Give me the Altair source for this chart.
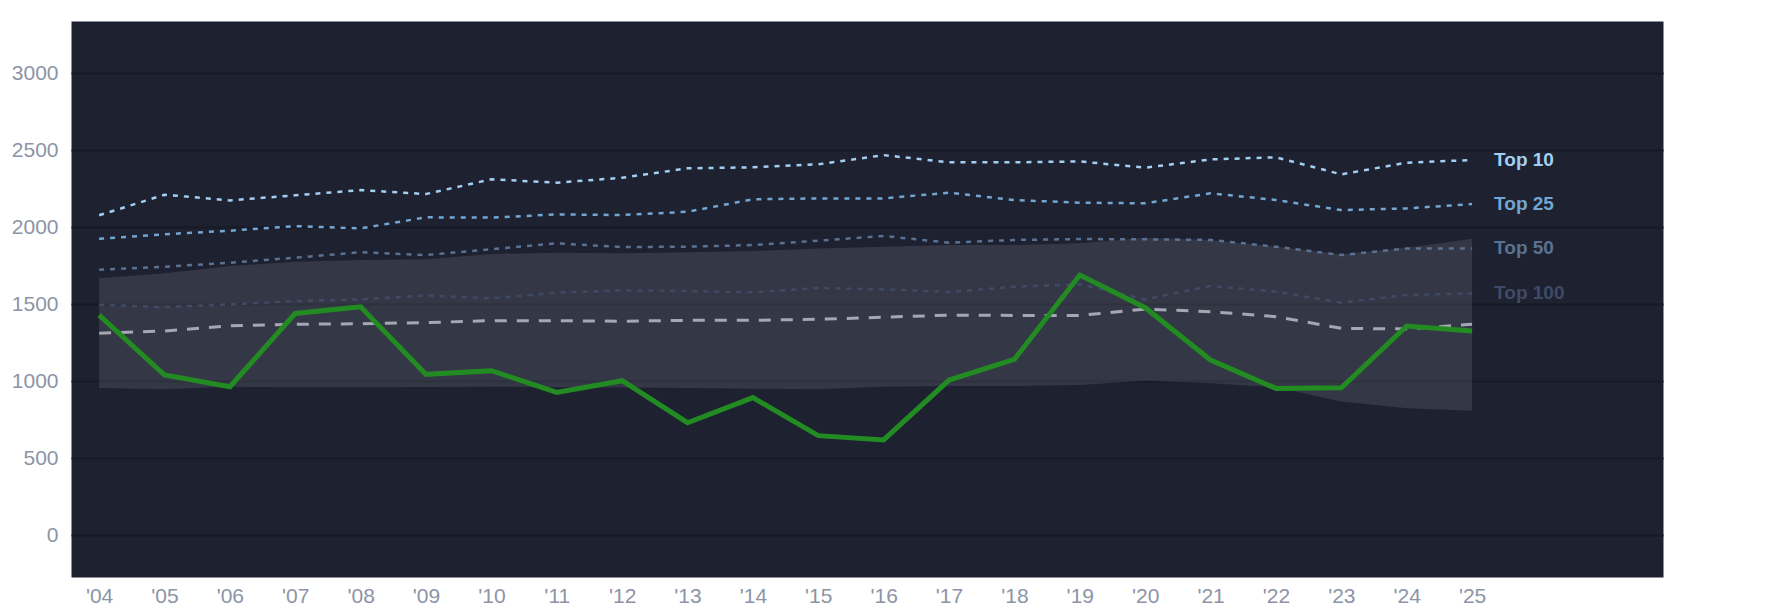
import altair as alt
import pandas as pd

years = list(range(2004, 2026))

player = [1430, 1041, 965, 1441, 1484, 1045, 1069, 928, 1004, 731, 894, 647,
          619, 1008, 1143, 1690, 1478, 1138, 954, 958, 1359, 1327]
top10 = [2078, 2212, 2175, 2208, 2242, 2216, 2312, 2290, 2322, 2383, 2390, 2409,
         2469, 2422, 2422, 2428, 2387, 2441, 2455, 2344, 2420, 2437]
top25 = [1926, 1955, 1978, 2008, 1993, 2065, 2063, 2084, 2080, 2101, 2182, 2188,
         2188, 2225, 2177, 2160, 2156, 2221, 2177, 2112, 2123, 2151]
top50 = [1725, 1744, 1770, 1803, 1838, 1820, 1858, 1896, 1872, 1874, 1885, 1913,
         1944, 1900, 1918, 1924, 1922, 1918, 1874, 1820, 1863, 1863]
top100 = [1497, 1482, 1500, 1521, 1532, 1558, 1539, 1575, 1591, 1586, 1578, 1606,
          1597, 1580, 1614, 1630, 1532, 1619, 1582, 1511, 1560, 1571]
median = [1312, 1327, 1361, 1370, 1374, 1381, 1394, 1394, 1390, 1396, 1396, 1403,
          1416, 1430, 1428, 1428, 1469, 1452, 1420, 1344, 1340, 1370]
band_hi = [1669, 1701, 1749, 1777, 1788, 1792, 1827, 1835, 1831, 1838, 1846, 1863,
           1874, 1885, 1885, 1896, 1933, 1918, 1875, 1825, 1868, 1925]
band_lo = [956, 948, 965, 961, 961, 963, 965, 961, 959, 956, 952, 948,
           965, 969, 969, 976, 1004, 987, 961, 868, 825, 809]

tier_names = ["Top 10", "Top 25", "Top 50", "Top 100"]
tier_values = [top10, top25, top50, top100]
tier_colors = ["#a3cff3", "#74a6d2", "#5a7192", "#3f4b66"]

x_scale = alt.Scale(domain=[2003.57, 2027.92], nice=False, zero=False)
y_scale = alt.Scale(domain=[-271, 3340], nice=False, zero=False)

x_axis = alt.Axis(values=years, format="d", labelExpr="\"'\" + slice(datum.label, 2)",
                  grid=False, domain=False, ticks=False, labelFontSize=21,
                  labelColor="#8c94a6", labelPadding=8, title=None,
                  labelFont="Liberation Sans")
y_axis = alt.Axis(values=[0, 500, 1000, 1500, 2000, 2500, 3000], format="d", grid=True,
                  gridColor="#171b27", gridWidth=2, domain=False, ticks=False,
                  labelFontSize=21, labelColor="#8c94a6", labelPadding=13,
                  title=None, labelFont="Liberation Sans")

band_df = pd.DataFrame({"year": years, "lo": band_lo, "hi": band_hi})
band = alt.Chart(band_df).mark_area(color="#ffffff", opacity=0.1).encode(
    x=alt.X("year:Q", scale=x_scale, axis=x_axis),
    y=alt.Y("lo:Q", scale=y_scale, axis=y_axis),
    y2="hi:Q",
)

layers = [band]
for name, vals, col in zip(tier_names, tier_values, tier_colors):
    df = pd.DataFrame({"year": years, "v": vals})
    layers.append(
        alt.Chart(df).mark_line(color=col, strokeWidth=2.5, strokeDash=[5, 6]).encode(
            x=alt.X("year:Q", scale=x_scale),
            y=alt.Y("v:Q", scale=y_scale),
        )
    )

med_df = pd.DataFrame({"year": years, "v": median})
layers.append(
    alt.Chart(med_df).mark_line(color="#a4a8b2", strokeWidth=3, strokeDash=[12, 10]).encode(
        x=alt.X("year:Q", scale=x_scale),
        y=alt.Y("v:Q", scale=y_scale),
    )
)

pl_df = pd.DataFrame({"year": years, "v": player})
layers.append(
    alt.Chart(pl_df).mark_line(color="#228b22", strokeWidth=5).encode(
        x=alt.X("year:Q", scale=x_scale),
        y=alt.Y("v:Q", scale=y_scale),
    )
)

lab_df = pd.DataFrame({
    "year": [years[-1]] * 4,
    "v": [v[-1] for v in tier_values],
    "name": tier_names,
    "col": tier_colors,
})
layers.append(
    alt.Chart(lab_df).mark_text(align="left", baseline="middle", dx=22, fontSize=19,
                                fontWeight="bold", font="Liberation Sans").encode(
        x=alt.X("year:Q", scale=x_scale),
        y=alt.Y("v:Q", scale=y_scale),
        text="name:N",
        color=alt.Color("col:N", scale=None),
    )
)

chart = alt.layer(*layers).properties(
    width=1592,
    height=556,
    autosize=alt.AutoSizeParams(type="none"),
    padding={"left": 63, "top": 13, "right": 10, "bottom": 40},
    background="#ffffff",
).configure_view(fill="#1d2130", stroke="transparent")

chart.save("out.html", embed_options={"renderer": "svg", "actions": False})
